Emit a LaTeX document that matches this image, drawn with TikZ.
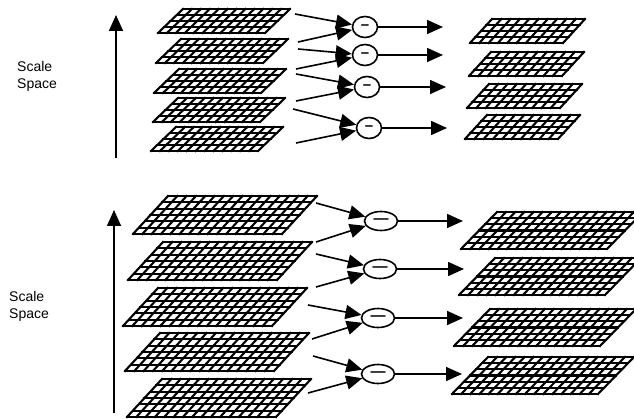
\documentclass[tikz,border=0pt]{standalone}
\usepackage{fontspec}
\setmainfont{Liberation Sans}
\usetikzlibrary{arrows.meta,shapes.geometric}
\tikzset{%
  grid line/.style={
    line width=2.1pt,
    line cap=rect
  },
  every diff/.style={
    ellipse,
    draw,
    line width=1.6pt,
    inner sep=0pt,
    font=\fontsize{15}{17}\selectfont\bfseries
  },
  diff small/.style={
    minimum width=25pt,
    minimum height=21pt
  },
  diff large/.style={
    minimum width=33pt,
    minimum height=19pt
  },
  flow/.style={
    ->,
    line width=1.6pt
  },
}
% #1,#2 lower left corner, #3 width, #4 height, #5 slant, #6 columns, #7 rows
\newcommand{\layer}[7]{%
  \begin{scope}[shift={(#1,#2)}]
    \foreach \r in {0,...,#7}
      \draw [grid line] ({#5*\r/#7},{-#4*\r/#7}) -- ++(#3,0);
    \foreach \c in {0,...,#6}
      \draw [grid line] ({#3*\c/#6},0) -- ++(#5,-#4);
  \end{scope}}

\begin{document}
\begin{tikzpicture}[x=1pt, y=-1pt, >={Triangle[length=16pt,width=14pt]}]

            \useasboundingbox (0,0) rectangle (634,419);

            % Upper octave: blurred images
            \foreach \bx/\by in {158/33,156/63,154/93,153/122,151/151}
              {\layer{\bx}{\by}{107}{24}{25}{12}{4}}

            % Upper octave: difference images
            \foreach \bx/\by in {470/43,469/76,467/108,465/139}
              {\layer{\bx}{\by}{93}{24}{22}{10}{4}}

            % Lower octave: blurred images
            \foreach \bx/\by in {133/234,128/280,123/326,125/371,127/417}
              {\layer{\bx}{\by}{149}{38}{35}{16}{6}}

            % Lower octave: difference images
            \foreach \bx/\by in {461/249,459/295,454/346,452/394}
              {\layer{\bx}{\by}{146}{37}{36}{16}{6}}

            % Subtraction nodes
            \foreach \px/\py [count=\i] in {365/27,365/55,367/87,369/128}
              \node [every diff/.try, diff small] (diff-\i) at (\px,\py) {\textendash};
            \foreach \px/\py [count=\i from 5] in {381/221,380/269,378/318,378/374}
              \node [every diff/.try, diff large] (diff-\i) at (\px,\py) {\textemdash};

            % Lines from blurred images to subtraction nodes
            \foreach \sx/\sy/\t [count=\k] in {295/14/1,298/42/1,298/49/2,296/69/2,
                296/74/3,296/101/3,293/109/4,296/143/4,
                316/203/5,316/242/5,316/254/6,316/287/6,
                308/305/7,312/339/7,313/356/8,308/393/8}
              {
              \coordinate (in-\k) at (\sx,\sy);
              \draw [flow] (in-\k) -- (diff-\t);
              }

            % Lines from subtraction nodes to difference images
            \foreach \ox/\oy [count=\i] in {443/27,443/55,446/87,447/128,
                463/221,464/269,463/318,462/374}
              {
              \coordinate (out-\i) at (\ox,\oy);
              \draw [flow] (diff-\i) -- (out-\i);
              }

            % Scale axes
            \coordinate (scale-low-1) at (116,158);
            \coordinate (scale-high-1) at (116,15);
            \coordinate (scale-low-2) at (114,413);
            \coordinate (scale-high-2) at (114,210);
            \foreach \i in {1,2}
              \draw [flow] (scale-low-\i) -- (scale-high-\i);

            % Text next to the axes
            \foreach \tx/\ty [count=\i] in {17/76,9/306}
              \node [align=left, anchor=west, inner sep=0pt,
                font=\fontsize{14}{17}\selectfont] (label-\i) at (\tx,\ty) {Scale\\Space};

\end{tikzpicture}
\end{document}
